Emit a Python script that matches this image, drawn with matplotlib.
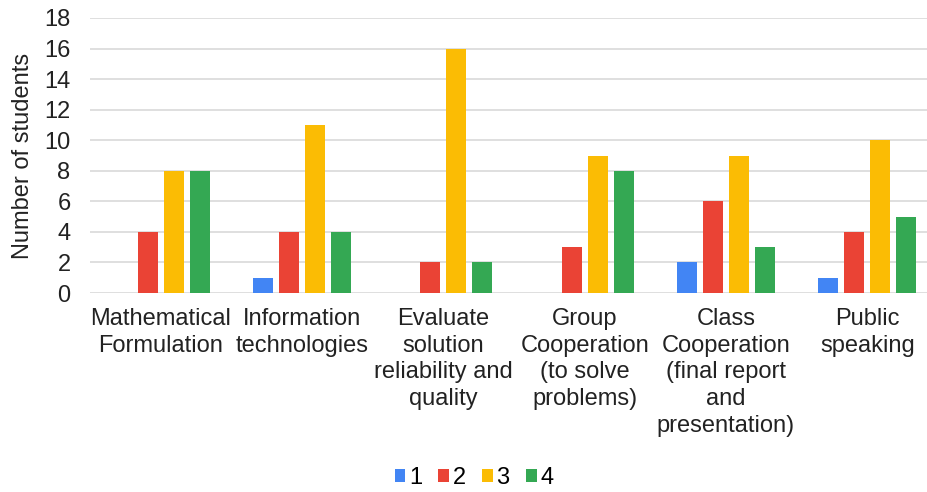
import matplotlib.pyplot as plt
import numpy as np

categories = [
    "Mathematical\nFormulation",
    "Information\ntechnologies",
    "Evaluate\nsolution\nreliability and\nquality",
    "Group\nCooperation\n(to solve\nproblems)",
    "Class\nCooperation\n(final report\nand\npresentation)",
    "Public\nspeaking",
]
series_names = ["1", "2", "3", "4"]
s1 = [0, 1, 0, 0, 2, 1]
s2 = [4, 4, 2, 3, 6, 4]
s3 = [8, 11, 16, 9, 9, 10]
s4 = [8, 4, 2, 8, 3, 5]
yticks = [0, 2, 4, 6, 8, 10, 12, 14, 16, 18]

colors = ["#4285F4", "#EA4335", "#FBBC04", "#34A853"]

plt.rcParams['font.family'] = ['Liberation Sans', 'DejaVu Sans']

W, H = 927, 492
fig = plt.figure(figsize=(W / 100, H / 100), dpi=100)
# plot area runs slightly past the right edge of the image (cropped original)
left, right = 90, 938
bottom, top = 293, 18
ax = fig.add_axes([left / W, 1 - bottom / H, (right - left) / W, (bottom - top) / H])

x = np.arange(len(categories))
width = 0.142
step = 0.184
for k, vals in enumerate([s1, s2, s3, s4]):
    ax.bar(x + (k - 1.5) * step, vals, width, color=colors[k], label=series_names[k], zorder=3)

ax.set_xlim(-0.5, len(categories) - 0.5)
ax.set_ylim(0, 18)
ax.set_yticks(yticks)
ax.yaxis.grid(True, color="#d9d9d9", linewidth=1.2, zorder=0)
for s in ax.spines.values():
    s.set_visible(False)
fs = 17
ax.tick_params(axis="y", length=0, labelsize=fs, colors="#222222", pad=14)
ax.tick_params(axis="x", length=0, labelsize=fs, colors="#222222", pad=11)
ax.set_xticks(x)
ax.set_xticklabels(categories, linespacing=1.27, va="top")
ax.set_ylabel("Number of students", fontsize=fs, color="#222222", labelpad=7)

leg = fig.legend(loc="center", bbox_to_anchor=(474 / W, 1 - 478 / H), ncol=4,
                 frameon=False, fontsize=fs, handlelength=0.45, handleheight=0.45,
                 handletextpad=0.15, columnspacing=0.7)

fig.savefig("out.png", dpi=100)
